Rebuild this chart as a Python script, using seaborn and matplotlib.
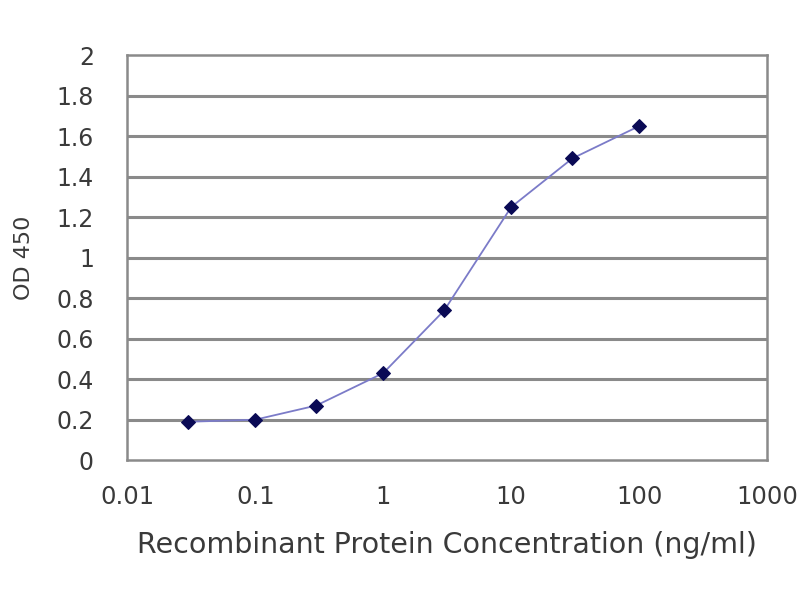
import pandas as pd
import seaborn as sns
import matplotlib.pyplot as plt

# concentrations (ng/ml) and OD 450 readings
conc = [0.03, 0.1, 0.3, 1, 3, 10, 30, 100]
od450 = [0.19, 0.2, 0.27, 0.43, 0.74, 1.25, 1.49, 1.65]
x_ticks = [0.01, 0.1, 1, 10, 100, 1000]
x_labels = ['0.01', '0.1', '1', '10', '100', '1000']
y_ticks = [0, 0.2, 0.4, 0.6, 0.8, 1, 1.2, 1.4, 1.6, 1.8, 2]
y_labels = ['0', '0.2', '0.4', '0.6', '0.8', '1', '1.2', '1.4', '1.6', '1.8', '2']

df = pd.DataFrame({'conc': conc, 'od': od450})

sns.set_style('white')
plt.rcParams['font.family'] = ['DejaVu Sans']

fig = plt.figure(figsize=(8, 6), dpi=100)
ax = fig.add_axes([0.159, 0.233, 0.8, 0.675])

# horizontal grid lines
for y in y_ticks[1:-1]:
    ax.axhline(y, color='#8a8a8a', lw=2.2, zorder=0)

sns.lineplot(data=df, x='conc', y='od', ax=ax, color='#7b7bc8', lw=1.3,
             marker='D', markersize=7, markerfacecolor='#0a0a55',
             markeredgecolor='#0a0a55', zorder=3)

ax.set_xscale('log')
ax.set_xlim(0.01, 1000)
ax.set_ylim(0, 2)
ax.set_xticks(x_ticks)
ax.set_xticklabels(x_labels)
ax.set_yticks(y_ticks)
ax.set_yticklabels(y_labels)
ax.minorticks_off()
txt = '#3a3a3a'
ax.tick_params(axis='y', labelsize=17, colors=txt, length=0, pad=24)
ax.tick_params(axis='x', labelsize=17.5, colors=txt, length=4, direction='out',
               color='#8a8a8a', pad=14)

for s in ax.spines.values():
    s.set_color('#8a8a8a')
    s.set_linewidth(1.8)

ax.set_xlabel('Recombinant Protein Concentration (ng/ml)', fontsize=20.5,
              color=txt, labelpad=16)
ax.set_ylabel('OD 450', fontsize=16, color=txt, labelpad=16)

fig.savefig('out.png', dpi=100)
